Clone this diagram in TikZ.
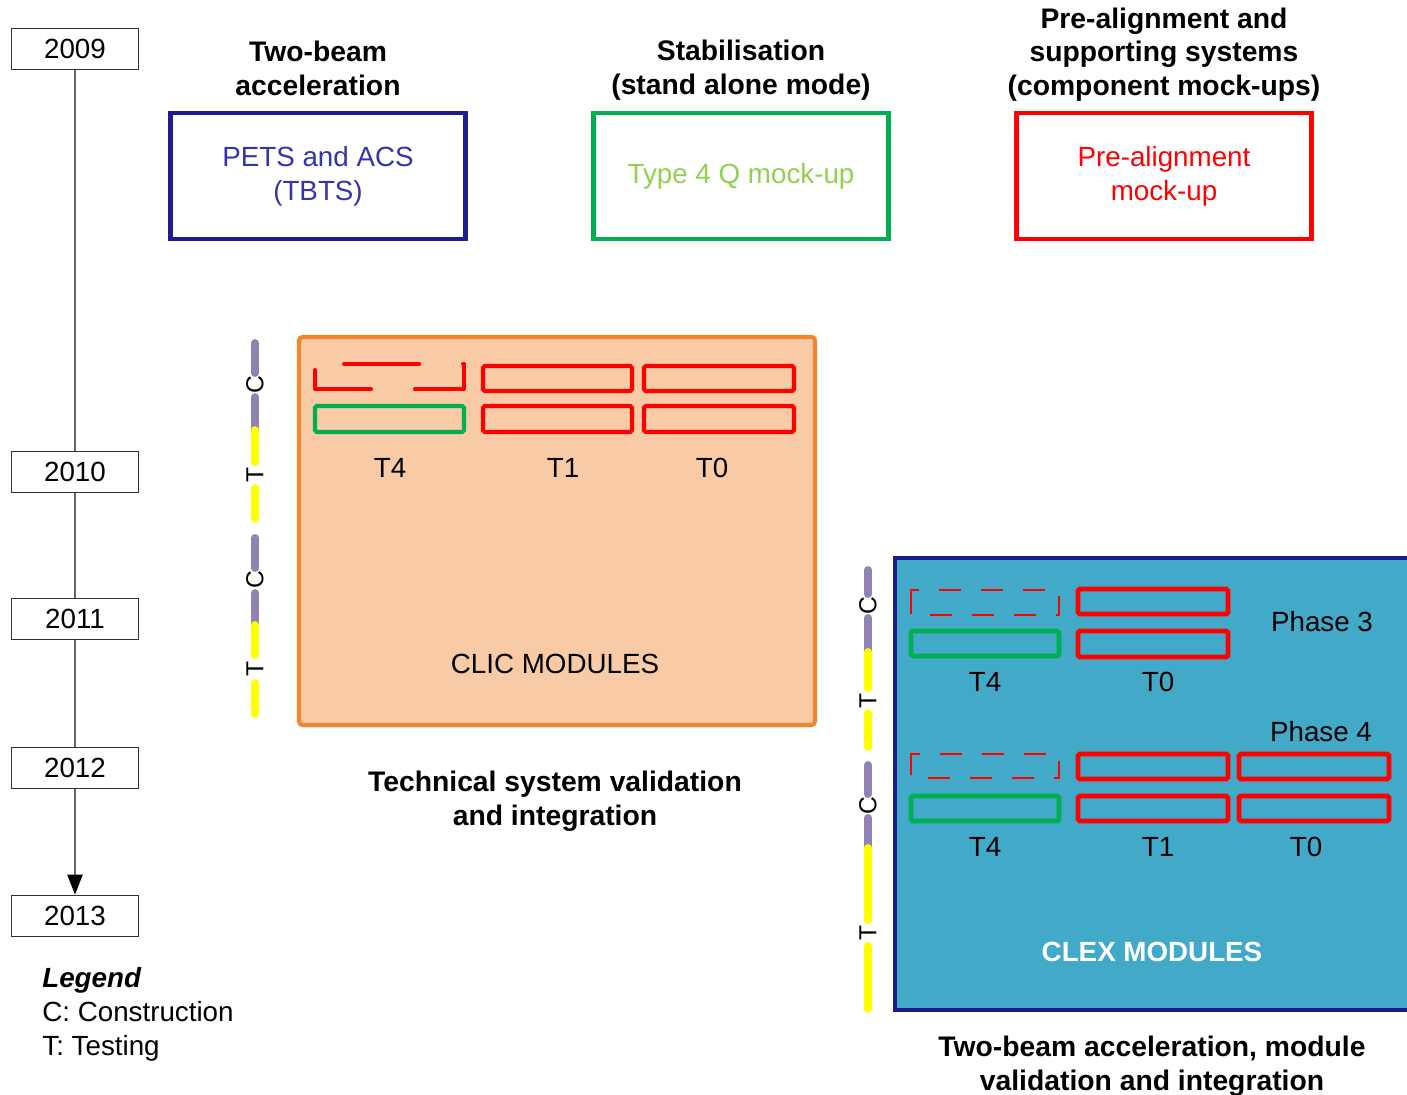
\documentclass[tikz,border=0pt]{standalone}
\usepackage{fontspec}
\setmainfont{Liberation Sans}
\usetikzlibrary{positioning,arrows.meta}
\definecolor{tbblue}{HTML}{1F1A96}
\definecolor{tbtext}{HTML}{3434AC}
\definecolor{stgreen}{HTML}{00B050}
\definecolor{stlight}{HTML}{92D050}
\definecolor{pared}{HTML}{FF0000}
\definecolor{clicorange}{HTML}{F0872E}
\definecolor{clicfill}{HTML}{F8CBA6}
\definecolor{clexblue}{HTML}{1C1A8C}
\definecolor{clexfill}{HTML}{42A9C8}
\definecolor{cpurple}{HTML}{9182B4}
\definecolor{tyellow}{HTML}{FFFF00}
\newcommand{\diagfont}{\fontsize{15.8}{19.3}\selectfont}

\begin{document}
\begin{tikzpicture}[x=0.02cm, y=-0.02cm,
  year/.style={draw=black!80, fill=white, line width=0.9pt, minimum width=2.54cm,
               minimum height=0.82cm, inner sep=0pt, font=\diagfont},
  tl/.style={draw=black!60, line width=1.2pt},
  goal/.style={draw, line width=2.8pt, minimum width=5.9cm, minimum height=2.52cm,
               align=center, font=\diagfont},
  head/.style={font=\fontsize{16.1}{19.3}\selectfont\bfseries, align=center},
  lbl/.style={font=\diagfont},
  modred/.style={draw=pared, line width=2.3pt, rounded corners=1pt},
  modgreen/.style={draw=stgreen, line width=2.3pt, rounded corners=1pt},
  bar/.style={line width=4.5pt, line cap=round},
  barlbl/.style={font=\fontsize{14}{16}\selectfont, rotate=90, inner sep=1pt},
]
\path[use as bounding box] (0,0) rectangle (1407,1095);
% Timeline
\foreach \yr/\y in {2009/49, 2010/472, 2011/619, 2012/768, 2013/916}
  \node[year] (y\yr) at (75,\y) {\yr};
\draw[tl] (y2009) -- (y2010);
\draw[tl] (y2010) -- (y2011);
\draw[tl] (y2011) -- (y2012);
\draw[tl, -{Triangle[length=0.4cm, width=0.3cm, black]}] (y2012) -- (y2013);
% Legend
\node[font=\diagfont, align=left, anchor=north west, inner sep=0pt] (legend) at (42,967) {
  \textbf{\textit{Legend}}\\
  C: Construction\\
  T: Testing
};
% Stand alone test stands
\node[goal, draw=tbblue, text=tbtext] (tbts) at (318,176) {PETS and ACS\\(TBTS)};
\node[goal, draw=stgreen, text=stlight] (stab) at (741,176) {Type 4 Q mock-up};
\node[goal, draw=pared, text=pared] (prealign) at (1164,176) {Pre-alignment\\mock-up};
\node[head, above=5pt of tbts] (tbtshead) {Two-beam\\acceleration};
\node[head, above=2.5pt of stab] (stabhead) {Stabilisation\\(stand alone mode)};
\node[head, above=1.5pt of prealign] (prealignhead) {Pre-alignment and\\supporting systems\\(component mock-ups)};
% CLIC modules
\draw[draw=clicorange, fill=clicfill, line width=2.3pt, rounded corners=2pt]
  (299,337) rectangle (815,725);
\draw[draw=pared, line width=2.3pt, line cap=round, line join=round,
      dash pattern=on 1.5cm off 0.88cm]
  (315,370) -- (315,389) -- (464,389) -- (464,364) -- (315,364) -- cycle;
\draw[modgreen] (315,406) rectangle (464,432);
\draw[modred] (483,366) rectangle (632,391);
\draw[modred] (483,406) rectangle (632,432);
\draw[modred] (644,366) rectangle (794,391);
\draw[modred] (644,406) rectangle (794,432);
\node[lbl] (clict4) at (390,468) {T4};
\node[lbl] (clict1) at (563,468) {T1};
\node[lbl] (clict0) at (712,468) {T0};
\node[lbl] (clic) at (555,664) {CLIC MODULES};
\node[head] (clichead) at (555,801) {Technical system validation\\and integration};
% CLIC construction / testing bar
\draw[bar, cpurple] (255,343) -- (255,373);
\draw[bar, cpurple] (255,397) -- (255,430);
\draw[bar, tyellow] (255,430) -- (255,462);
\draw[bar, tyellow] (255,488) -- (255,519);
\draw[bar, cpurple] (255,538) -- (255,568);
\draw[bar, cpurple] (255,593) -- (255,625);
\draw[bar, tyellow] (255,625) -- (255,655);
\draw[bar, tyellow] (255,683) -- (255,714);
\node[barlbl] (clicc1) at (255,385) {C};
\node[barlbl] (clict1b) at (255,475) {T};
\node[barlbl] (clicc2) at (255,580) {C};
\node[barlbl] (clict2b) at (255,669) {T};
% CLEX modules
\draw[draw=clexblue, fill=clexfill, line width=2.8pt] (895,558) rectangle (1420,1010);
\draw[draw=pared, line width=1.1pt, dash pattern=on 0.44cm off 0.4cm]
  (911,604) -- (911,590) -- (1059,590) -- (1059,615) -- (911,615) -- cycle;
\draw[modgreen, line width=2.8pt] (911,631) rectangle (1059,656);
\draw[modred, line width=2.8pt] (1078,589) rectangle (1228,614);
\draw[modred, line width=2.8pt] (1078,631) rectangle (1228,657);
\draw[draw=pared, line width=1.1pt, dash pattern=on 0.44cm off 0.4cm]
  (911,767) -- (911,754) -- (1059,754) -- (1059,778) -- (911,778) -- cycle;
\draw[modgreen, line width=2.8pt] (911,796) rectangle (1059,821);
\draw[modred, line width=2.8pt] (1078,754) rectangle (1228,779);
\draw[modred, line width=2.8pt] (1078,796) rectangle (1228,821);
\draw[modred, line width=2.8pt] (1239,754) rectangle (1389,779);
\draw[modred, line width=2.8pt] (1239,796) rectangle (1389,821);
\node[lbl] (phase3) at (1322,622) {Phase 3};
\node[lbl] (phase4) at (1321,732) {Phase 4};
\node[lbl] (clex3t4) at (985,682) {T4};
\node[lbl] (clex3t0) at (1158,682) {T0};
\node[lbl] (clex4t4) at (985,847) {T4};
\node[lbl] (clex4t1) at (1158,847) {T1};
\node[lbl] (clex4t0) at (1306,847) {T0};
\node[font=\diagfont\bfseries, text=white] (clex) at (1152,952) {CLEX MODULES};
\node[head] (clexhead) at (1152,1066) {Two-beam acceleration, module\\validation and integration};
% CLEX construction / testing bar
\draw[bar, cpurple] (868,570) -- (868,594);
\draw[bar, cpurple] (868,618) -- (868,652);
\draw[bar, tyellow] (868,652) -- (868,688);
\draw[bar, tyellow] (868,713) -- (868,747);
\draw[bar, cpurple] (868,765) -- (868,794);
\draw[bar, cpurple] (868,818) -- (868,848);
\draw[bar, tyellow] (868,848) -- (868,920);
\draw[bar, tyellow] (868,946) -- (868,1009);
\node[barlbl] (clexc1) at (868,606) {C};
\node[barlbl] (clext1) at (868,701) {T};
\node[barlbl] (clexc2) at (868,806) {C};
\node[barlbl] (clext2) at (868,933) {T};
\end{tikzpicture}
\end{document}
